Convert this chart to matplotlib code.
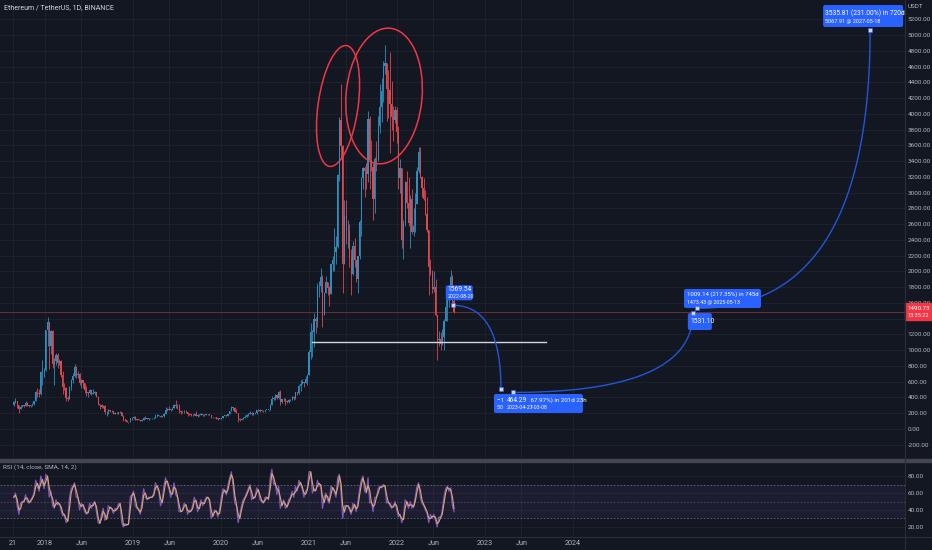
import numpy as np
import pandas as pd
import matplotlib
matplotlib.use('Agg')
import matplotlib.pyplot as plt
import matplotlib.dates as mdates
from matplotlib.patches import Ellipse, Rectangle, FancyBboxPatch
from matplotlib.transforms import ScaledTranslation
from matplotlib.lines import Line2D

plt.rcParams['font.family'] = ['Roboto', 'DejaVu Sans']

BG = '#131722'
GRID = '#1e222d'
TXT = '#b2b5be'
UP = '#2b8fbf'
DOWN = '#e0474c'
BLUE = '#2962ff'

# ETH/USDT, weekly candles (open = previous close)
first_open = 300
close = [
    # 2017
    347, 350, 300, 255, 285, 300, 297, 335, 300, 295, 300, 315, 350, 470, 460, 440, 720, 720, 745,
    # 2018
    1250, 1360, 1050, 1245, 830, 860, 940, 840, 860, 680, 530, 520, 395, 385, 530, 620, 670, 790,
    680, 700, 580, 620, 580, 500, 460, 460, 490, 450, 460, 470, 410, 320, 300, 280, 290, 210, 220,
    245, 230, 225, 195, 205, 200, 210, 210, 160, 120, 115, 90, 85, 135, 135, 150,
    # 2019
    125, 120, 115, 105, 120, 145, 130, 130, 135, 135, 135, 145, 165, 165, 170, 155, 160, 195, 235,
    250, 245, 245, 270, 310, 290, 290, 230, 220, 210, 220, 210, 195, 185, 175, 180, 195, 170, 175,
    180, 190, 175, 180, 185, 185, 180, 150, 150, 147, 140, 130, 130, 145,
    # 2020
    165, 170, 165, 190, 225, 265, 265, 220, 200, 125, 120, 130, 145, 155, 180, 195, 205, 185, 200,
    200, 235, 245, 230, 230, 225, 240, 240, 240, 310, 385, 395, 430, 395, 470, 340, 375, 385, 355,
    345, 365, 365, 405, 395, 465, 460, 550, 575, 600, 590, 640, 690, 975,
    # 2021
    1230, 1230, 1390, 1375, 1810, 1810, 1935, 1445, 1725, 1870, 1785, 1715, 2090, 2145, 2240, 2310,
    3220, 3915, 3590, 2100, 2700, 2510, 2510, 2170, 1965, 2320, 2140, 1900, 2190, 2630, 3190, 3310,
    3280, 3230, 3930, 3410, 3330, 2925, 3420, 3415, 3850, 4080, 4290, 4610, 4650, 4315, 4300, 4120,
    3960, 3920, 4050, 3765,
    # 2022
    3190, 3310, 2400, 2600, 3130, 2870, 2620, 2920, 2500, 2580, 2860, 3280, 3520, 3200, 3060, 2920,
    2730, 2520, 2060, 1975, 1780, 1805, 1450, 1130, 1140, 1075, 1170, 1375, 1550, 1680, 1700, 1930,
    1620, 1490,
]
high = [
    350, 395, 350, 310, 300, 310, 305, 350, 340, 305, 310, 330, 360, 480, 520, 510, 730, 880, 780,
    1250, 1420, 1360, 1250, 1250, 900, 970, 960, 890, 870, 730, 580, 530, 420, 540, 630, 710, 830,
    800, 740, 715, 630, 625, 540, 550, 465, 505, 500, 510, 480, 475, 420, 320, 320, 300, 300, 225,
    250, 245, 235, 230, 210, 210, 220, 225, 215, 175, 125, 120, 95, 140, 155, 160,
    160, 130, 125, 115, 125, 148, 165, 140, 140, 140, 140, 147, 185, 185, 180, 175, 165, 200, 275,
    270, 290, 255, 275, 320, 365, 320, 320, 235, 225, 235, 235, 215, 200, 195, 185, 200, 225, 185,
    185, 200, 195, 195, 190, 195, 190, 180, 155, 150, 150, 140, 135, 145,
    170, 180, 170, 190, 230, 288, 285, 275, 250, 200, 140, 145, 155, 180, 185, 200, 230, 215, 215,
    215, 245, 250, 250, 240, 240, 245, 245, 245, 315, 415, 405, 440, 445, 480, 490, 385, 395, 390,
    365, 380, 385, 420, 420, 470, 475, 555, 620, 635, 600, 670, 695, 1000,
    1350, 1260, 1475, 1420, 1850, 1880, 2040, 1950, 1740, 1940, 1870, 1820, 2100, 2200, 2550, 2450,
    3240, 3960, 4372, 3600, 2900, 2900, 2650, 2600, 2280, 2380, 2420, 2150, 2200, 2650, 3200, 3330,
    3340, 3380, 4030, 3970, 3670, 3380, 3450, 3650, 3970, 4380, 4460, 4670, 4870, 4600, 4550, 4780,
    4410, 4100, 4100, 4080,
    3850, 3420, 3300, 2650, 3150, 3280, 3200, 2970, 3050, 2800, 3000, 3320, 3580, 3580, 3210, 3190,
    3030, 2950, 2520, 2160, 2020, 2010, 1900, 1450, 1245, 1230, 1270, 1390, 1650, 1790, 1720, 2020,
    1960, 1700,
]
low = [
    290, 330, 270, 197, 250, 280, 285, 295, 295, 280, 285, 290, 310, 350, 400, 400, 430, 560, 660,
    740, 1050, 760, 950, 780, 560, 810, 770, 810, 660, 450, 500, 360, 360, 390, 500, 590, 660,
    650, 650, 560, 520, 520, 460, 420, 410, 440, 430, 455, 430, 400, 310, 250, 270, 270, 195,
    167, 195, 210, 215, 190, 195, 195, 195, 205, 160, 105, 100, 85, 82, 85, 115, 130,
    115, 115, 110, 100, 100, 115, 125, 125, 120, 130, 132, 130, 140, 155, 160, 150, 155, 155, 190,
    230, 235, 225, 235, 265, 270, 260, 200, 190, 200, 205, 200, 170, 180, 165, 165, 175, 165, 155,
    170, 175, 160, 160, 175, 180, 175, 140, 140, 140, 130, 118, 125, 125,
    140, 160, 155, 160, 185, 225, 240, 210, 200, 90, 105, 120, 125, 150, 150, 170, 190, 180, 180,
    195, 195, 225, 220, 225, 220, 220, 235, 230, 235, 300, 370, 370, 385, 375, 310, 330, 360, 310,
    330, 330, 360, 365, 370, 375, 435, 445, 480, 575, 535, 580, 560, 690,
    890, 920, 1040, 1220, 1300, 1680, 1740, 1300, 1460, 1730, 1700, 1560, 1710, 2000, 2000, 2100,
    2300, 3150, 3440, 1730, 2100, 2350, 2300, 2050, 1700, 1960, 2050, 1860, 1720, 2160, 2450, 3050,
    2950, 3050, 3130, 3050, 3280, 2650, 2740, 3280, 3400, 3750, 3890, 4150, 4500, 3910, 3950, 3500,
    3800, 3650, 3880, 3630,
    3050, 3000, 2300, 2160, 2580, 2800, 2580, 2300, 2480, 2450, 2500, 2860, 3250, 3180, 2950, 2900,
    2720, 2500, 1700, 1950, 1720, 1740, 1430, 880, 1050, 1000, 1060, 1005, 1400, 1370, 1550, 1660,
    1560, 1470,
]
rsi = [
    55, 60, 45, 35, 48, 50, 50, 58, 50, 48, 52, 55, 60, 75, 68, 62, 80, 72, 65,
    82, 78, 55, 62, 45, 42, 52, 46, 48, 40, 33, 35, 25, 28, 55, 65, 68, 72, 55, 55, 40, 48, 45, 38,
    35, 38, 48, 42, 48, 50, 38, 25, 24, 35, 42, 28, 30, 45, 42, 42, 36, 42, 40, 47, 48, 25, 20, 24,
    22, 24, 55, 58, 62,
    45, 42, 40, 35, 50, 65, 55, 52, 55, 55, 55, 60, 72, 65, 62, 45, 52, 68, 78, 70, 65, 55, 62, 72,
    58, 55, 38, 38, 40, 48, 45, 35, 40, 38, 45, 55, 48, 38, 45, 52, 45, 50, 55, 55, 50, 30, 35, 40,
    38, 32, 40, 55,
    65, 62, 58, 70, 78, 85, 68, 48, 45, 25, 35, 45, 52, 55, 60, 65, 70, 52, 55, 55, 66, 62, 52, 50,
    48, 55, 55, 52, 78, 88, 70, 72, 58, 68, 42, 48, 52, 42, 45, 52, 55, 62, 55, 68, 62, 75, 70, 65,
    55, 62, 65, 85,
    85, 60, 65, 62, 75, 68, 70, 42, 55, 60, 52, 48, 68, 65, 62, 55, 78, 82, 60, 30, 45, 45, 45, 40,
    35, 48, 45, 38, 50, 65, 75, 80, 62, 60, 78, 48, 50, 38, 55, 55, 65, 68, 66, 70, 68, 48, 50, 45,
    42, 45, 50, 40,
    32, 35, 25, 32, 52, 48, 42, 50, 42, 45, 55, 68, 72, 55, 48, 45, 40, 36, 25, 35, 30, 35, 28, 20,
    32, 30, 40, 55, 65, 68, 62, 66, 45, 38,
]
last_price = 1490.73

# axis labels
time_ticks = ['2017-08-21', '2018-01-01', '2018-06-01', '2019-01-01', '2019-06-01', '2020-01-01',
              '2020-06-01', '2021-01-01', '2021-06-01', '2022-01-01', '2022-06-01', '2023-01-01',
              '2023-06-01', '2024-01-01']
time_labels = ['21', '2018', 'Jun', '2019', 'Jun', '2020', 'Jun', '2021', 'Jun', '2022', 'Jun',
               '2023', 'Jun', '2024']
price_ticks = list(range(-200, 5201, 200))
rsi_ticks = [20, 40, 60, 80]

# drawings on the chart
path_dates = ['2022-08-20', '2023-03-08', '2023-04-27', '2025-05-13', '2025-05-29', '2027-05-18']
path_prices = [1569.54, 502.74, 464.29, 1473.43, 1531.10, 5066.91]
support_dates = ['2021-01-13', '2023-09-10']
support_price = 1104
circle_dates = ['2021-05-01', '2021-11-08']
circle_prices = [4099, 4226]

# ---- layout (pixel calibration of the screenshot) ----
W, H = 932, 550
PX_DAY = 0.24098
x_left = mdates.date2num(pd.Timestamp('2018-01-01')) - 45 / PX_DAY
x_right = x_left + 905 / PX_DAY

fig = plt.figure(figsize=(W / 100, H / 100), dpi=100)
fig.patch.set_facecolor(BG)
ax = fig.add_axes([0, 1 - 458 / H, 905 / W, 458 / H])
ax_r = fig.add_axes([0, 1 - 536 / H, 905 / W, 74 / H], sharex=ax)

tick_pos = mdates.date2num(pd.to_datetime(time_ticks))
for a in (ax, ax_r):
    a.set_facecolor(BG)
    for s in a.spines.values():
        s.set_visible(False)
    a.set_xticks(tick_pos)
    a.grid(True, color=GRID, lw=0.7)
    a.set_axisbelow(True)
    a.tick_params(axis='y', length=0, labelsize=4.6, labelcolor=TXT, pad=2,
                  left=False, labelleft=False, right=True, labelright=True)
    a.tick_params(axis='x', length=0, labelsize=5.2, labelcolor=TXT, pad=3)
ax.tick_params(axis='x', labelbottom=False)
ax_r.set_xticklabels(time_labels)
ax.set_xlim(x_left, x_right)
ax.set_ylim(-368, 5444)
ax.set_yticks(price_ticks)
ax.set_yticklabels([f'{v:.2f}' for v in price_ticks])
ax_r.set_ylim(9.4, 96.5)
ax_r.set_yticks(rsi_ticks)
ax_r.set_yticklabels([f'{v:.2f}' for v in rsi_ticks])

# ---- candles ----
n = min(len(close), len(high), len(low))
weeks = pd.date_range('2017-08-21', periods=n, freq='7D')
xc = mdates.date2num(weeks) + 3.5
c = np.array(close[:n], float)
o = np.r_[first_open, c[:-1]]
hi = np.maximum(np.array(high[:n], float), np.maximum(o, c))
lo = np.minimum(np.array(low[:n], float), np.minimum(o, c))
cols = np.where(c >= o, UP, DOWN)
ax.vlines(xc, lo, hi, colors=cols, lw=0.6)
ax.bar(xc, np.maximum(np.abs(c - o), 8), bottom=np.minimum(o, c), width=5, color=cols, lw=0)

# current price line + badge
ax.axhline(last_price, color=DOWN, lw=0.7, alpha=0.45)
y_badge = ax.transData.transform((0, last_price))[1] / H
fig.patches.append(Rectangle((905 / W, y_badge - 8.5 / H), 27 / W, 17 / H,
                             transform=fig.transFigure, color='#f23645'))
fig.text(918.5 / W, y_badge + 3 / H, f'{last_price:.2f}', color='white', fontsize=4.5,
         ha='center', va='center')
fig.text(918.5 / W, y_badge - 4 / H, '13:35:22', color='white', fontsize=4.0,
         ha='center', va='center')

# support line
sd = mdates.date2num(pd.to_datetime(support_dates))
ax.plot(sd, [support_price, support_price], color='#d1d4dc', lw=1.0)

# red circles (sizes in pixels)
circle_shapes = [(40, 122, -8), (76, 136, -5)]
for d, p, (w, h, ang) in zip(circle_dates, circle_prices, circle_shapes):
    tr = fig.dpi_scale_trans + ScaledTranslation(mdates.date2num(pd.Timestamp(d)), p, ax.transData)
    ax.add_patch(Ellipse((0, 0), w / 100, h / 100, angle=ang, transform=tr,
                         fill=False, ec='#f23645', lw=1.1))

# projection curves
px = mdates.date2num(pd.to_datetime(path_dates))
py = np.array(path_prices)
t = np.linspace(0, 1, 80)
for i, j in [(0, 1), (2, 3), (4, 5)]:
    cx, cy = px[j], py[i]
    bx = (1 - t) ** 2 * px[i] + 2 * (1 - t) * t * cx + t ** 2 * px[j]
    by = (1 - t) ** 2 * py[i] + 2 * (1 - t) * t * cy + t ** 2 * py[j]
    ax.plot(bx, by, color='#2156d8', lw=1.0)


def label_box(k, box, lines, z):
    tr = fig.dpi_scale_trans + ScaledTranslation(px[k], py[k], ax.transData)
    x0, y0, w, h = box
    ax.add_patch(FancyBboxPatch((x0 / 100, y0 / 100), w / 100, h / 100,
                                boxstyle='round,pad=0,rounding_size=0.02',
                                transform=tr, fc=BLUE, ec='none', zorder=z))
    for tx, ty, s, size in lines:
        ax.text(tx / 100, ty / 100, s, transform=tr, color='white', fontsize=size,
                ha='left', va='center', zorder=z + 0.5)


label_box(0, (-7, 5, 27, 15), [(-5, 15.5, '1569.54', 4.8), (-5, 8.5, '2022-08-20', 3.8)], 5)
label_box(1, (-7, -23.6, 89, 19), [(-4, -10.5, '\u22121067.37 (\u221267.97%) in 201d 23h', 4.5),
                                   (-4, -18.5, '502.74 @ 2023-03-08', 3.8)], 5)
label_box(2, (-10, -20.6, 28, 17), [(-6, -8.5, '464.29', 4.8), (-6, -15.5, '2023-04-27', 3.8)], 6)
label_box(3, (-9, 4.9, 77, 19), [(-6, 18.5, '1009.14 (217.35%) in 745d', 4.3),
                                 (-6, 10.5, '1473.43 @ 2025-05-13', 3.8)], 5)
label_box(4, (-9, -21.7, 24, 17), [(-6, -13, '1531.10', 4.8)], 5)
label_box(5, (-47, 2.7, 80, 22), [(-45, 16.5, '3535.81 (231.00%) in 720d', 4.9),
                                  (-45, 8.5, '5067.91 @ 2027-05-18', 4.0)], 5)
ax.plot(px, py, 's', ms=2.2, color='#d1d4dc', mec=BLUE, mew=0.4, zorder=8)

# ---- RSI pane ----
xr = xc[:len(rsi)]
rsi_s = pd.Series(rsi[:len(xr)], dtype=float)
ax_r.axhspan(30, 70, color='#7e57c2', alpha=0.1, lw=0)
for lvl in (70, 50, 30):
    ax_r.axhline(lvl, color='#787b86', lw=0.6, ls=(0, (2, 2)), alpha=0.8 if lvl != 50 else 0.5)
ax_r.plot(xr, rsi_s, color='#7e57c2', lw=0.9)
ax_r.plot(xr, rsi_s.rolling(2, min_periods=1).mean(), color='#d9a86c', lw=0.8)

# texts and separators
fig.text(4 / W, 1 - 8 / H, 'Ethereum / TetherUS, 1D, BINANCE', color='#d1d4dc', fontsize=5.0,
         ha='left', va='center')
fig.text(3 / W, 1 - 467 / H, 'RSI (14, close, SMA, 14, 2)', color=TXT, fontsize=4.6,
         ha='left', va='center')
fig.text(908 / W, 1 - 7 / H, 'USDT', color=TXT, fontsize=4.6, ha='left', va='center')
fig.patches.append(Rectangle((0, 1 - 461.5 / H), 1, 3 / H, transform=fig.transFigure,
                             color='#434651'))
fig.lines.append(Line2D([905 / W, 905 / W], [0, 1], transform=fig.transFigure,
                        color='#2a2e39', lw=0.8))
fig.lines.append(Line2D([0, 1], [1 - 536.5 / H, 1 - 536.5 / H], transform=fig.transFigure,
                        color='#2a2e39', lw=0.8))

fig.savefig('out.png', dpi=100, facecolor=BG)
